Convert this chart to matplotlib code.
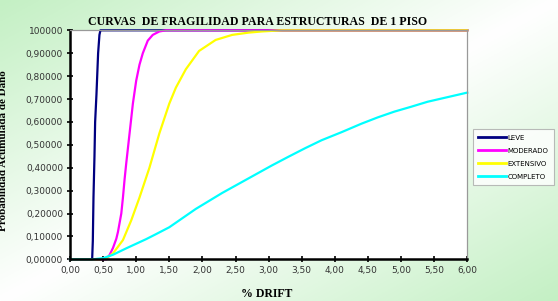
import numpy as np
import matplotlib
matplotlib.use("Agg")
import matplotlib.pyplot as plt
from matplotlib.colors import LinearSegmentedColormap

# curvas (x = % drift, y = probabilidad)
leve_x = [0, 0.33, 0.335, 0.345, 0.355, 0.37, 0.38, 0.40, 0.425, 0.445, 0.46, 6.0]
leve_y = [0, 0, 0.0, 0.08, 0.27, 0.45, 0.60, 0.72, 0.90, 0.98, 1.0, 1.0]

moderado_x = [0, 0.55, 0.6, 0.65, 0.7, 0.725, 0.775, 0.8, 0.825, 0.85, 0.9, 0.95,
              1.0, 1.05, 1.1, 1.175, 1.25, 1.35, 1.45, 6.0]
moderado_y = [0, 0, 0.02, 0.05, 0.09, 0.12, 0.20, 0.27, 0.35, 0.42, 0.55, 0.68,
              0.78, 0.85, 0.90, 0.955, 0.98, 0.995, 1.0, 1.0]

extensivo_x = [0, 0.45, 0.55, 0.65, 0.8, 0.925, 1.05, 1.2, 1.35, 1.5, 1.6, 1.75,
               1.95, 2.2, 2.45, 2.7, 2.9, 3.2, 6.0]
extensivo_y = [0, 0, 0.005, 0.026, 0.084, 0.17, 0.27, 0.40, 0.55, 0.68, 0.75, 0.83,
               0.91, 0.958, 0.98, 0.99, 0.995, 1.0, 1.0]

completo_x = [0, 0.35, 0.5, 0.65, 0.85, 1.0, 1.15, 1.3, 1.5, 1.7, 1.9, 2.1, 2.3,
              2.55, 2.8, 3.05, 3.3, 3.55, 3.8, 4.1, 4.4, 4.65, 4.9, 5.15, 5.4,
              5.7, 6.0]
completo_y = [0, 0, 0.005, 0.02, 0.048, 0.068, 0.088, 0.11, 0.14, 0.18, 0.22,
              0.255, 0.29, 0.33, 0.37, 0.41, 0.448, 0.485, 0.52, 0.555, 0.592,
              0.62, 0.645, 0.666, 0.688, 0.708, 0.728]

x_ticks = [0, 0.5, 1, 1.5, 2, 2.5, 3, 3.5, 4, 4.5, 5, 5.5, 6]
x_labels = ["0,00", "0,50", "1,00", "1,50", "2,00", "2,50", "3,00", "3,50",
            "4,00", "4,50", "5,00", "5,50", "6,00"]
y_ticks = [0, 0.1, 0.2, 0.3, 0.4, 0.5, 0.6, 0.7, 0.8, 0.9, 1.0]
y_labels = ["0,00000", "0,10000", "0,20000", "0,30000", "0,40000", "0,50000",
            "0,60000", "0,70000", "0,80000", "0,90000", "100000"]

fig = plt.figure(figsize=(5.58, 3.01), dpi=100)

# fondo degradado verde - blanco - verde (diagonal)
bg = fig.add_axes([0, 0, 1, 1], zorder=-10)
gx, gy = np.meshgrid(np.linspace(0, 1, 200), np.linspace(0, 1, 200))
t = np.abs((gx + gy) - 1.0)
cmap = LinearSegmentedColormap.from_list("fondo", ["#ffffff", "#c4f0c4"])
bg.imshow(t, cmap=cmap, aspect="auto", extent=[0, 1, 0, 1], origin="upper",
          vmin=0, vmax=1)
bg.axis("off")

ax = fig.add_axes([0.1254, 0.1385, 0.712, 0.7608])
ax.set_facecolor("white")

ax.plot(leve_x, leve_y, color="#000080", lw=1.6, label="LEVE", clip_on=False)
ax.plot(moderado_x, moderado_y, color="#ff00ff", lw=1.6, label="MODERADO", clip_on=False)
ax.plot(extensivo_x, extensivo_y, color="#ffff00", lw=1.6, label="EXTENSIVO", clip_on=False)
ax.plot(completo_x, completo_y, color="#00ffff", lw=1.6, label="COMPLETO", clip_on=False)

ax.set_xlim(0, 6)
ax.set_ylim(0, 1)
ax.set_xticks(x_ticks)
ax.set_xticklabels(x_labels)
ax.set_yticks(y_ticks)
ax.set_yticklabels(y_labels)
ax.tick_params(direction="inout", length=4, width=1.2, labelsize=6.5,
               labelcolor="#333333", pad=3)

for s in ["left", "bottom"]:
    ax.spines[s].set_linewidth(1.8)
    ax.spines[s].set_color("black")
for s in ["top", "right"]:
    ax.spines[s].set_linewidth(0.9)
    ax.spines[s].set_color("#999999")

fig.text(0.4615, 0.927, "CURVAS  DE FRAGILIDAD PARA ESTRUCTURAS  DE 1 PISO",
         ha="center", va="center", family="Liberation Serif",
         fontweight="bold", fontsize=8.6)
fig.text(0.478, 0.022, "% DRIFT", ha="center", va="center",
         family="Liberation Serif", fontweight="bold", fontsize=8.5)
fig.text(0.006, 0.5, "Probabilidad Acumulada de Daño", ha="center", va="center",
         rotation=90, family="Liberation Serif", fontweight="bold", fontsize=8)

leg = fig.legend(loc="center", bbox_to_anchor=(0.92, 0.478), fontsize=5,
                 handlelength=4, handletextpad=0.2, labelspacing=1.0,
                 frameon=True, fancybox=False, borderpad=0.8)
leg.get_frame().set_edgecolor("#aaaaaa")
leg.get_frame().set_linewidth(0.8)
for h in leg.get_lines():
    h.set_linewidth(2)

fig.savefig("out.png", dpi=100)
